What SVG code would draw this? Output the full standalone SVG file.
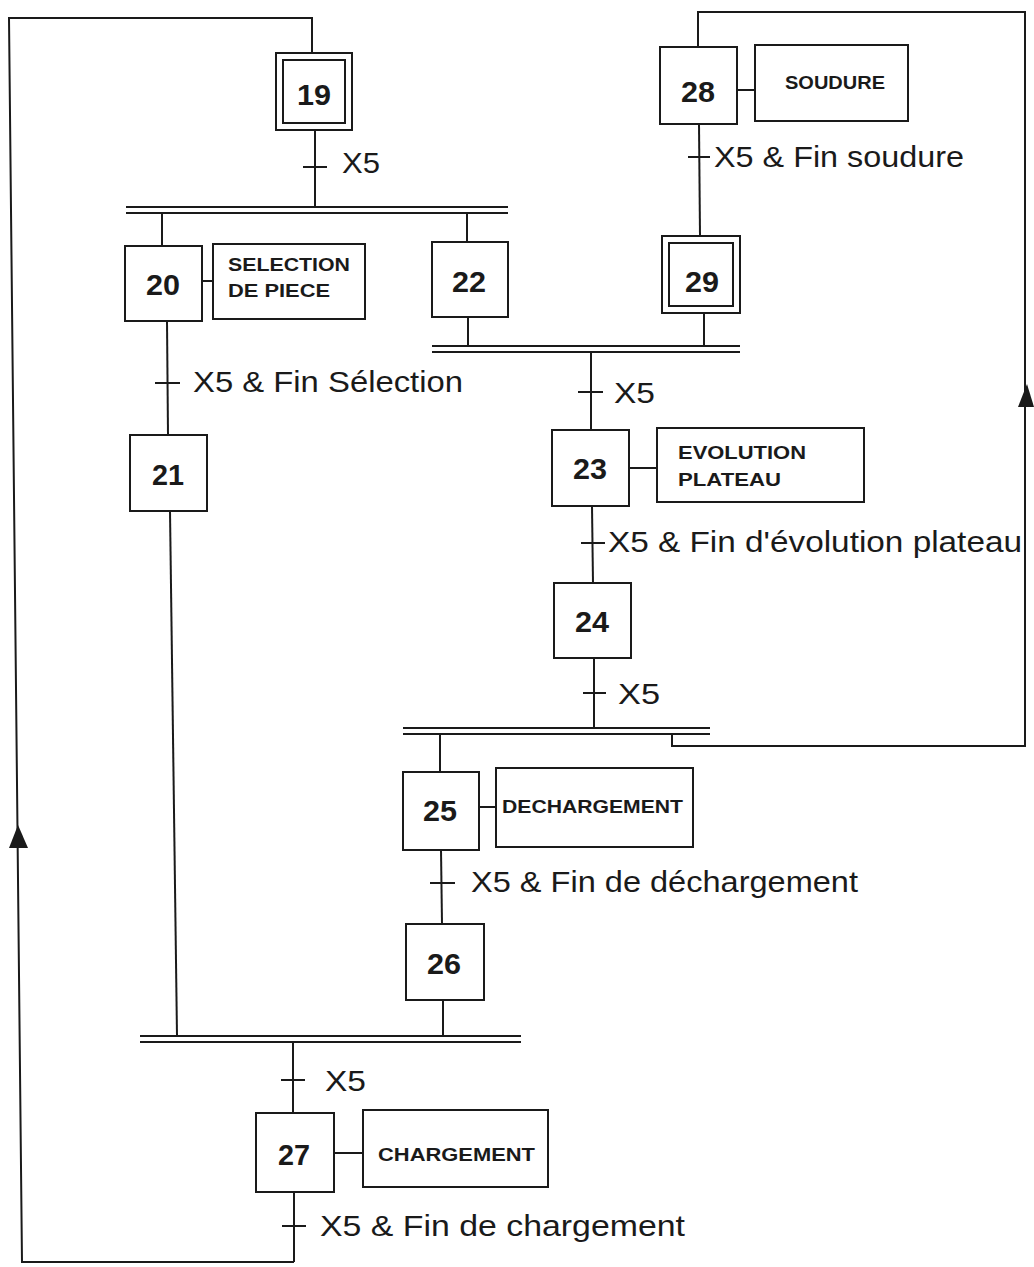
<svg xmlns="http://www.w3.org/2000/svg" width="1034" height="1267" viewBox="0 0 1034 1267">
<defs>
<style>
.b{fill:none;stroke:#1a1a1a;stroke-width:2}
.st{fill:#fff;stroke:#1a1a1a;stroke-width:2}
.n{font-family:"Liberation Sans",Arial,sans-serif;font-weight:bold;font-size:29px;fill:#1a1a1a;text-anchor:middle}
.a{font-family:"Liberation Sans",Arial,sans-serif;font-weight:bold;font-size:19px;fill:#1a1a1a}
.t{font-family:"Liberation Sans",Arial,sans-serif;font-size:30px;fill:#1a1a1a}
.ah{fill:#1a1a1a;stroke:none}
</style>
</defs>
<rect width="1034" height="1267" fill="#fff"/>
<g id="connectors">
<path class="b" d="M312 53 V18 H9 L22 1262 H294"/>
<polygon class="ah" points="18,825 9,848 28,848"/>
<path class="b" d="M698 47 V12 H1025 V746 H672 V734"/>
<polygon class="ah" points="1027,384 1018,407 1034,407"/>
<line class="b" x1="315" y1="130" x2="315" y2="207"/>
<line class="b" x1="303" y1="167" x2="327" y2="167"/>
<line class="b" x1="126" y1="207" x2="508" y2="207"/>
<line class="b" x1="126" y1="213" x2="508" y2="213"/>
<line class="b" x1="162" y1="213" x2="162" y2="246"/>
<line class="b" x1="467" y1="213" x2="467" y2="242"/>
<line class="b" x1="167" y1="321" x2="168" y2="435"/>
<line class="b" x1="155" y1="383" x2="180" y2="383"/>
<line class="b" x1="170" y1="511" x2="177" y2="1036"/>
<line class="b" x1="468" y1="317" x2="468" y2="346"/>
<line class="b" x1="699" y1="124" x2="700" y2="236"/>
<line class="b" x1="688" y1="157" x2="710" y2="157"/>
<line class="b" x1="704" y1="313" x2="704" y2="346"/>
<line class="b" x1="432" y1="346" x2="740" y2="346"/>
<line class="b" x1="432" y1="352" x2="740" y2="352"/>
<line class="b" x1="591" y1="352" x2="591" y2="430"/>
<line class="b" x1="578" y1="392" x2="603" y2="392"/>
<line class="b" x1="592" y1="506" x2="593" y2="583"/>
<line class="b" x1="581" y1="543" x2="605" y2="543"/>
<line class="b" x1="594" y1="658" x2="594" y2="728"/>
<line class="b" x1="583" y1="693" x2="606" y2="693"/>
<line class="b" x1="403" y1="728" x2="710" y2="728"/>
<line class="b" x1="403" y1="734" x2="710" y2="734"/>
<line class="b" x1="440" y1="734" x2="440" y2="772"/>
<line class="b" x1="441" y1="850" x2="442" y2="924"/>
<line class="b" x1="430" y1="883" x2="455" y2="883"/>
<line class="b" x1="443" y1="1000" x2="443" y2="1036"/>
<line class="b" x1="140" y1="1036" x2="521" y2="1036"/>
<line class="b" x1="140" y1="1042" x2="521" y2="1042"/>
<line class="b" x1="293" y1="1042" x2="293" y2="1113"/>
<line class="b" x1="281" y1="1080" x2="305" y2="1080"/>
<line class="b" x1="294" y1="1192" x2="294" y2="1262"/>
<line class="b" x1="282" y1="1226" x2="306" y2="1226"/>
<line class="b" x1="202" y1="281" x2="213" y2="281"/>
<line class="b" x1="737" y1="90" x2="755" y2="90"/>
<line class="b" x1="629" y1="468" x2="657" y2="468"/>
<line class="b" x1="479" y1="807" x2="496" y2="807"/>
<line class="b" x1="334" y1="1153" x2="363" y2="1153"/>
<text class="t" x="342" y="173" textLength="38" lengthAdjust="spacingAndGlyphs">X5</text>
<text class="t" x="714" y="167" textLength="250" lengthAdjust="spacingAndGlyphs">X5 &amp; Fin soudure</text>
<text class="t" x="193" y="392" textLength="270" lengthAdjust="spacingAndGlyphs">X5 &amp; Fin Sélection</text>
<text class="t" x="614" y="403" textLength="41" lengthAdjust="spacingAndGlyphs">X5</text>
<text class="t" x="608" y="552" textLength="414" lengthAdjust="spacingAndGlyphs">X5 &amp; Fin d'évolution plateau</text>
<text class="t" x="618" y="704" textLength="42" lengthAdjust="spacingAndGlyphs">X5</text>
<text class="t" x="471" y="892" textLength="387" lengthAdjust="spacingAndGlyphs">X5 &amp; Fin de déchargement</text>
<text class="t" x="325" y="1091" textLength="41" lengthAdjust="spacingAndGlyphs">X5</text>
<text class="t" x="320" y="1236" textLength="365" lengthAdjust="spacingAndGlyphs">X5 &amp; Fin de chargement</text>
</g>
<g id="step19">
<rect class="st" x="276" y="53" width="76" height="77"/>
<rect class="b" x="283" y="60" width="62" height="63"/>
<text class="n" x="314" y="105" textLength="34" lengthAdjust="spacingAndGlyphs">19</text>
</g>
<g id="step28">
<rect class="st" x="660" y="47" width="77" height="77"/>
<text class="n" x="698" y="102" textLength="34" lengthAdjust="spacingAndGlyphs">28</text>
</g>
<g id="action28">
<rect class="st" x="755" y="45" width="153" height="76"/>
<text class="a" x="785" y="89" textLength="100" lengthAdjust="spacingAndGlyphs">SOUDURE</text>
</g>
<g id="step20">
<rect class="st" x="125" y="246" width="77" height="75"/>
<text class="n" x="163" y="295" textLength="34" lengthAdjust="spacingAndGlyphs">20</text>
</g>
<g id="action20">
<rect class="st" x="213" y="244" width="152" height="75"/>
<text class="a" x="228" y="271" textLength="122" lengthAdjust="spacingAndGlyphs">SELECTION</text>
<text class="a" x="228" y="297" textLength="102" lengthAdjust="spacingAndGlyphs">DE PIECE</text>
</g>
<g id="step22">
<rect class="st" x="432" y="242" width="76" height="75"/>
<text class="n" x="469" y="292" textLength="34" lengthAdjust="spacingAndGlyphs">22</text>
</g>
<g id="step29">
<rect class="st" x="662" y="236" width="78" height="77"/>
<rect class="b" x="669" y="243" width="64" height="63"/>
<text class="n" x="702" y="292" textLength="34" lengthAdjust="spacingAndGlyphs">29</text>
</g>
<g id="step21">
<rect class="st" x="130" y="435" width="77" height="76"/>
<text class="n" x="168" y="485" textLength="32" lengthAdjust="spacingAndGlyphs">21</text>
</g>
<g id="step23">
<rect class="st" x="552" y="430" width="77" height="76"/>
<text class="n" x="590" y="479" textLength="34" lengthAdjust="spacingAndGlyphs">23</text>
</g>
<g id="action23">
<rect class="st" x="657" y="428" width="207" height="74"/>
<text class="a" x="678" y="459" textLength="128" lengthAdjust="spacingAndGlyphs">EVOLUTION</text>
<text class="a" x="678" y="486" textLength="103" lengthAdjust="spacingAndGlyphs">PLATEAU</text>
</g>
<g id="step24">
<rect class="st" x="554" y="583" width="77" height="75"/>
<text class="n" x="592" y="632" textLength="34" lengthAdjust="spacingAndGlyphs">24</text>
</g>
<g id="step25">
<rect class="st" x="403" y="772" width="76" height="78"/>
<text class="n" x="440" y="821" textLength="34" lengthAdjust="spacingAndGlyphs">25</text>
</g>
<g id="action25">
<rect class="st" x="496" y="768" width="197" height="79"/>
<text class="a" x="502" y="813" textLength="181" lengthAdjust="spacingAndGlyphs">DECHARGEMENT</text>
</g>
<g id="step26">
<rect class="st" x="406" y="924" width="78" height="76"/>
<text class="n" x="444" y="974" textLength="34" lengthAdjust="spacingAndGlyphs">26</text>
</g>
<g id="step27">
<rect class="st" x="256" y="1113" width="78" height="79"/>
<text class="n" x="294" y="1165" textLength="32" lengthAdjust="spacingAndGlyphs">27</text>
</g>
<g id="action27">
<rect class="st" x="363" y="1110" width="185" height="77"/>
<text class="a" x="378" y="1161" textLength="157" lengthAdjust="spacingAndGlyphs">CHARGEMENT</text>
</g>
</svg>
